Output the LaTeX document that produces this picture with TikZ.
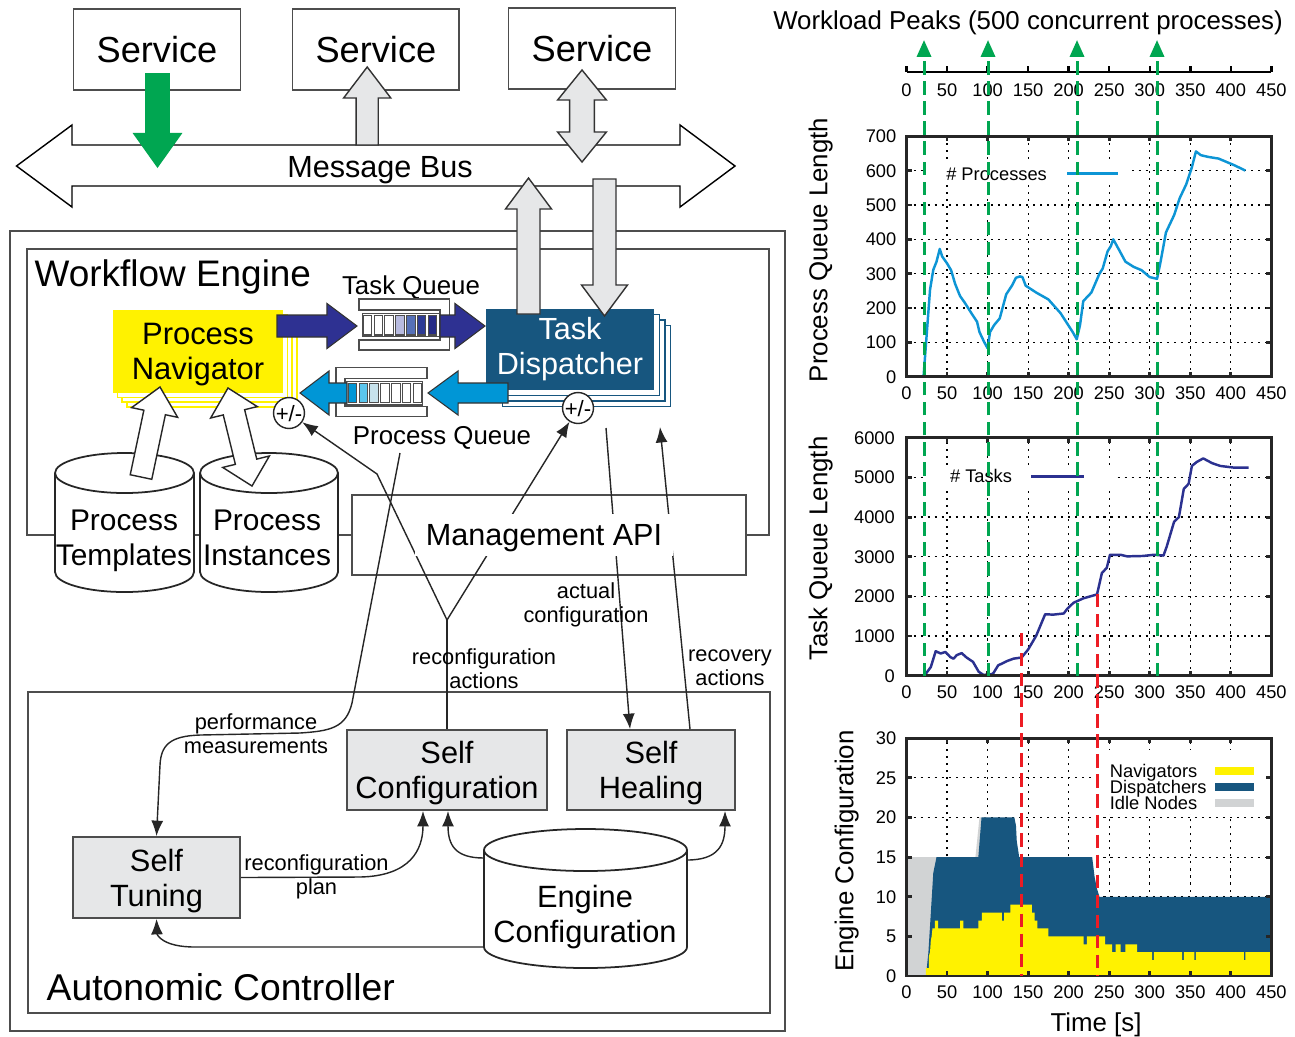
\documentclass[tikz,border=0pt]{standalone}
\usepackage{fontspec}
\setmainfont{Liberation Sans}
\usepackage{tikz}
\usetikzlibrary{arrows.meta,calc,positioning}

\definecolor{navyellow}{HTML}{FFF200}
\definecolor{dispblue}{HTML}{17567F}
\definecolor{tqblue}{HTML}{2E3192}
\definecolor{pqblue}{HTML}{0096D6}
\definecolor{boxgray}{HTML}{E6E7E8}
\definecolor{busgreen}{HTML}{00A651}
\definecolor{cutred}{HTML}{ED1C24}
\definecolor{idlegray}{HTML}{D1D3D4}
\definecolor{framegray}{HTML}{4D4D4D}
\definecolor{proccyan}{HTML}{0D95D5}
\definecolor{tasknavy}{HTML}{2B3190}
\definecolor{tqcA}{HTML}{B8BBE0}
\definecolor{tqcB}{HTML}{5570B8}
\definecolor{tqcC}{HTML}{2D3B95}
\definecolor{tqcD}{HTML}{262B86}
\definecolor{pqcB}{HTML}{5BC6EE}
\definecolor{pqcC}{HTML}{C7E2EC}

\newcommand\fsz[2]{\fontsize{#1}{#2}\selectfont}
% block arrow: style, tail, tip, half shaft, half head, head length
\newcommand\blockarrow[6]{%
  \path ($(#3)!#6!(#2)$) coordinate (ba-neck);
  \path[#1] ($(#2)!#4!90:(#3)$) -- ($(ba-neck)!#4!90:(#3)$) -- ($(ba-neck)!#5!90:(#3)$) -- (#3)
    -- ($(ba-neck)!#5!-90:(#3)$) -- ($(ba-neck)!#4!-90:(#3)$) -- ($(#2)!#4!-90:(#3)$) -- cycle;}
% double block arrow: style, end a, end b, half shaft, half head, head length
\newcommand\dblarrow[6]{%
  \path ($(#2)!#6!(#3)$) coordinate (da-na) ($(#3)!#6!(#2)$) coordinate (da-nb);
  \path[#1] (#2) -- ($(da-na)!#5!90:(#3)$) -- ($(da-na)!#4!90:(#3)$) -- ($(da-nb)!#4!-90:(#2)$)
    -- ($(da-nb)!#5!-90:(#2)$) -- (#3) -- ($(da-nb)!#5!90:(#2)$) -- ($(da-nb)!#4!90:(#2)$)
    -- ($(da-na)!#4!-90:(#3)$) -- ($(da-na)!#5!-90:(#3)$) -- cycle;}
% cylinder: x left, x right, y top centre, y bottom centre, y radius
\newcommand\drum[5]{%
  \filldraw[fill=white,draw=black!85,line width=0.5pt] (#1,#3) -- (#1,#4)
    arc[start angle=180,end angle=360,x radius={(#2-#1)/2},y radius=#5] -- (#2,#3)
    arc[start angle=0,end angle=180,x radius={(#2-#1)/2},y radius=#5] -- cycle;
  \draw[black!85,line width=0.5pt] (#1,#3) arc[start angle=180,end angle=360,x radius={(#2-#1)/2},y radius=#5];}

\begin{document}
\begin{tikzpicture}[x=0.01cm,y=0.01cm,every node/.append style={text depth=0pt},
  frame/.style={draw=framegray,line width=0.5pt},
  svc/.style={draw=framegray,fill=white,line width=0.5pt,minimum width=1.667cm,minimum height=0.807cm,inner sep=0pt,font=\fsz{10.3}{12}},
  selfbox/.style={draw=framegray,fill=boxgray,line width=0.5pt,align=center,inner sep=0pt,minimum height=0.8cm,font=\fsz{8.75}{10}},
  grayarrow/.style={draw=black!80,fill=boxgray,line width=0.4pt},
  whitearrow/.style={draw=black!85,fill=white,line width=0.4pt},
  tqarrow/.style={draw=black!80,fill=tqblue,line width=0.3pt},
  pqarrow/.style={draw=black!80,fill=pqblue,line width=0.3pt},
  conn/.style={draw=black!85,line width=0.4pt},
  arr/.style={conn,-{Latex[length=4.4pt,width=3.4pt]}},
  lbl/.style={font=\fsz{6.2}{6.8},align=center,inner sep=0pt},
  qlabel/.style={font=\fsz{7.35}{9},inner sep=0pt},
  pm/.style={circle,draw=black!85,fill=white,line width=0.4pt,inner sep=0pt,minimum size=0.27cm,font=\fsz{6.3}{7}},
  cell/.style={draw=framegray,line width=0.3pt},
  tick/.style={font=\fsz{5.2}{6},inner sep=0pt},
  axlbl/.style={font=\fsz{7.35}{9},inner sep=0pt},
  gridline/.style={black,line width=0.35pt,dash pattern=on 0.6pt off 1.4pt},
  plotframe/.style={black!85,line width=0.8pt},
  proccurve/.style={proccyan,line width=0.7pt,line join=round},
  taskcurve/.style={tasknavy,line width=0.7pt,line join=round},
  peak/.style={busgreen,line width=0.85pt,dash pattern=on 3.8pt off 1.9pt,-{Triangle[length=4.8pt,width=4pt]}},
  cutline/.style={cutred,line width=0.85pt,dash pattern=on 3.8pt off 1.9pt}]
\useasboundingbox (0,0) rectangle (1295,-1036);
\fill[white] (0,0) rectangle (1295,-1036);

% frames
\draw[frame] (10,-231) rectangle (785,-1031);
\draw[frame] (27,-249) rectangle (769,-535);
\draw[frame] (28,-692) rectangle (770,-1013);

% message bus and services
\draw[line width=0.4pt,fill=white] (72,-145) -- (680,-145) -- (680,-125) -- (735,-166) -- (680,-207) -- (680,-186)
  -- (72,-186) -- (72,-207) -- (16.5,-166) -- (72,-125) -- cycle;
\node[font=\fsz{8.7}{10}] (bus) at (380,-167) {Message Bus};
\node[svc] (svc1) at (157,-49.7) {Service};
\node[svc] (svc2) at (375.9,-49.7) {Service};
\node[svc] (svc3) at (592,-48.7) {Service};

\coordinate (g-tail) at (157.5,-73);
\coordinate (g-tip) at (157.5,-168);
\blockarrow{fill=busgreen}{g-tail}{g-tip}{0.124cm}{0.249cm}{0.35cm}
\coordinate (s2-tail) at (367.2,-145);
\coordinate (s2-tip) at (367.2,-67);
\blockarrow{grayarrow}{s2-tail}{s2-tip}{0.11cm}{0.236cm}{0.31cm}
\coordinate (s3-a) at (582,-70);
\coordinate (s3-b) at (582,-162);
\dblarrow{grayarrow}{s3-a}{s3-b}{0.124cm}{0.244cm}{0.30cm}

% workflow engine
\node[anchor=west,inner sep=0pt,font=\fsz{10.5}{12}] (wfe) at (34,-273) {Workflow Engine};
\foreach \d in {14,9,4.5}
  \draw[navyellow,fill=white,line width=0.5pt] (113+\d,-310-\d) rectangle (283+\d,-393-\d);
\node[fill=navyellow,minimum width=1.70cm,minimum height=0.83cm,align=center,inner sep=0pt,font=\fsz{8.8}{10}] (nav) at (198,-351.5) {Process\\Navigator};
\foreach \d in {16.5,11,5.5}
  \draw[dispblue,fill=white,line width=0.5pt] (486+\d,-309-\d) rectangle (654+\d,-390-\d);
\node[fill=dispblue,text=white,minimum width=1.68cm,minimum height=0.81cm,align=center,inner sep=0pt,text depth=2pt,font=\fsz{8.7}{10}] (disp) at (570,-349.5) {Task\\Dispatcher};

\coordinate (du-tail) at (528.5,-314);
\coordinate (du-tip) at (528.5,-178);
\blockarrow{grayarrow}{du-tail}{du-tip}{0.115cm}{0.23cm}{0.31cm}
\coordinate (dd-tail) at (604.5,-179);
\coordinate (dd-tip) at (604.5,-316);
\blockarrow{grayarrow}{dd-tail}{dd-tip}{0.115cm}{0.23cm}{0.31cm}

% task queue
\node[qlabel] (tqlbl) at (411,-285) {Task Queue};
\filldraw[fill=white,draw=framegray,line width=0.4pt] (359,-299) -- (449.3,-299) -- (449.3,-350) -- (359,-350)
  -- (359,-340) -- (440,-340) -- (440,-310) -- (359,-310) -- cycle;
\draw[cell,fill=white] (362.3,-313.3) rectangle (440,-336.7);
\foreach \c [count=\i from 0] in {white,white,white,tqcA,tqcB,tqcC,tqcD}
  \filldraw[cell,fill=\c] (363.3+10.83*\i,-315.7) rectangle ++(8.4,-19.3);
% process queue
\filldraw[fill=white,draw=framegray,line width=0.4pt] (427,-367.3) -- (336,-367.3) -- (336,-416.7) -- (427,-416.7)
  -- (427,-406.7) -- (345,-406.7) -- (345,-378.3) -- (427,-378.3) -- cycle;
\draw[cell,fill=white] (346.7,-381.7) rectangle (422.7,-405);
\foreach \c [count=\i from 0] in {pqblue,pqcB,pqcC,white,white,white,white}
  \filldraw[cell,fill=\c] (348.3+10.83*\i,-383.3) rectangle ++(8.4,-19.4);
\node[qlabel] (pqlbl) at (442,-435) {Process Queue};

\coordinate (tq1-tail) at (277,-326);
\coordinate (tq1-tip) at (357,-326);
\blockarrow{tqarrow}{tq1-tail}{tq1-tip}{0.11cm}{0.225cm}{0.30cm}
\coordinate (tq2-tail) at (440,-326);
\coordinate (tq2-tip) at (485,-326);
\blockarrow{tqarrow}{tq2-tail}{tq2-tip}{0.11cm}{0.225cm}{0.30cm}
\coordinate (pq1-tail) at (508,-393);
\coordinate (pq1-tip) at (428,-393);
\blockarrow{pqarrow}{pq1-tail}{pq1-tip}{0.10cm}{0.22cm}{0.30cm}
\coordinate (pq2-tail) at (347,-393);
\coordinate (pq2-tip) at (300,-393);
\blockarrow{pqarrow}{pq2-tail}{pq2-tip}{0.10cm}{0.22cm}{0.29cm}

% repositories
\drum{55}{194}{-473}{-572}{20}
\drum{200}{338}{-473}{-572}{20}
\node[align=center,inner sep=0pt,font=\fsz{8.5}{10}] (tpl) at (124,-538) {Process\\Templates};
\node[align=center,inner sep=0pt,font=\fsz{8.5}{10}] (inst) at (267,-538) {Process\\Instances};
\coordinate (tp-tail) at (141,-477);
\coordinate (tp-tip) at (160,-387);
\blockarrow{whitearrow}{tp-tail}{tp-tip}{0.11cm}{0.235cm}{0.26cm}
\coordinate (in-a) at (228,-388);
\coordinate (in-b) at (252,-486);
\dblarrow{whitearrow}{in-a}{in-b}{0.11cm}{0.24cm}{0.25cm}

\node[draw=framegray,fill=white,line width=0.5pt,minimum width=3.94cm,minimum height=0.80cm] (mapi) at (549,-535) {};
\node[pm] (pm1) at (289,-413) {+/-};
\node[pm] (pm2) at (578,-408) {+/-};

% autonomic controller
\node[selfbox,minimum width=2.00cm] (sconf) at (447,-770) {Self\\Configuration};
\node[selfbox,minimum width=1.68cm] (sheal) at (651,-770) {Self\\Healing};
\node[selfbox,minimum width=1.67cm,minimum height=0.81cm] (stune) at (156.5,-877.5) {Self\\Tuning};
\drum{484}{687}{-850}{-947}{21}
\node[align=center,inner sep=0pt,font=\fsz{8.75}{10}] (engcfg) at (585,-914) {Engine\\Configuration};
\node[anchor=west,inner sep=0pt,font=\fsz{10.6}{12}] (ac) at (46,-987) {Autonomic Controller};

% control loops
\coordinate (fork) at (447,-620);
\coordinate (fork-bend) at (377,-474);
\draw[conn] (sconf.north) -- (fork);
\draw[arr] (fork) -- (fork-bend) -- (pm1);
\draw[arr] (fork) -- (pm2);
\coordinate (cfg-src) at (606,-428);
\coordinate (sheal-in) at ($(sheal.north)+(-21,0)$);
\draw[arr] (cfg-src) -- (sheal-in);
\coordinate (sheal-out) at ($(sheal.north)+(39,0)$);
\coordinate (rec-end) at (660,-427);
\draw[arr] (sheal-out) -- (rec-end);
\coordinate (perf-src) at (400,-453);
\draw[arr] (perf-src) -- (352,-703) .. controls (346,-728) and (330,-731) .. (300,-733) -- (200,-735)
  .. controls (170,-736) and (161,-745) .. (160,-765) -- (stune.north);
\coordinate (sconf-in1) at ($(sconf.south)+(-24,0)$);
\draw[arr] (stune.east) -- (360,-877) .. controls (410,-876) and (423,-850) .. (sconf-in1);
\coordinate (eng-w1) at (484,-858);
\coordinate (sconf-in2) at ($(sconf.south)+(1,0)$);
\draw[arr] (eng-w1) .. controls (455,-858) and (448,-845) .. (sconf-in2);
\coordinate (eng-e1) at (687,-860);
\coordinate (sheal-in2) at ($(sheal.south)+(74,0)$);
\draw[arr] (eng-e1) .. controls (718,-860) and (725,-845) .. (sheal-in2);
\coordinate (eng-w2) at (484,-947);
\draw[arr] (eng-w2) -- (195,-947) .. controls (163,-947) and (157,-935) .. (stune.south);
\node[fill=white,inner sep=3pt,font=\fsz{8.7}{10}] (mapi-txt) at (544,-535) {Management API};

\node[lbl] (actcfg) at (586,-603) {actual\\configuration};
\node[lbl] (reacts) at (484,-668.5) {reconfiguration\\actions};
\node[lbl] (recov) at (730,-668) {recovery\\actions};
\node[lbl] (perf) at (256,-734) {performance\\measurements};
\node[lbl] (plan) at (316.5,-874.5) {reconfiguration\\plan};

% charts
\node[axlbl] (peaks) at (1028,-20) {Workload Peaks (500 concurrent processes)};
\begin{scope}[shift={(906.5,-72)},x=0.0081cm]
  \draw[line width=0.7pt] (0,0) -- (450,0);
  \foreach \t in {0,50,...,450} {
    \draw[line width=0.7pt] (\t,0) -- (\t,6);
    \node[tick] at (\t,-18.5) {\t};}
\end{scope}

% process queue plot
\node[axlbl,rotate=90] (pql) at (818,-250) {Process Queue Length};
\begin{scope}[shift={(906.5,-376.7)},x=0.0081cm,y=0.003429cm]
  \foreach \t in {50,100,...,400} \draw[gridline] (\t,0) -- (\t,700);
  \foreach \v in {100,200,...,600} \draw[gridline] (0,\v) -- (450,\v);
  \fill[white] (20,560) rectangle (278,625);
  \draw[proccurve] plot coordinates {(21,0) (29,253) (33,311) (37,335) (41,372) (44,350) (50,330) (55,310)
    (60,270) (66,235) (72,215) (80,185) (87,160) (90,130) (96,100) (100,83) (103,130) (108,150) (115,170)
    (123,240) (130,265) (135,288) (140,292) (143,290) (147,265) (160,245) (175,225) (190,185) (205,130)
    (210,109) (214,150) (218,220) (228,245) (238,300) (242,315) (248,365) (252,380) (255,400) (262,370)
    (270,335) (280,320) (290,310) (300,290) (309,285) (313,330) (320,420) (330,470) (337,520) (345,560)
    (352,610) (357,656) (363,645) (372,640) (385,635) (395,625) (405,615) (418,600)};
  \node[tick,anchor=east] (plg) at (174,591) {\# Processes};
  \draw[proccurve] (198,591) -- (261,591);
  \draw[plotframe] (0,0) rectangle (450,700);
  \foreach \t in {0,50,...,450} {
    \draw[plotframe] (\t,0) -- ++(0,0.05cm) (\t,700) -- ++(0,-0.05cm);
    \node[tick,below=0.09cm] at (\t,0) {\t};}
  \foreach \v in {0,100,...,700} {
    \draw[plotframe] (0,\v) -- ++(0.05cm,0) (450,\v) -- ++(-0.05cm,0);
    \node[tick,left=0.095cm] at (0,\v) {\v};}
\end{scope}

% task queue plot
\node[axlbl,rotate=90] (tql) at (818,-548.5) {Task Queue Length};
\begin{scope}[shift={(906.5,-675.7)},x=0.0081cm,y=0.00040117cm]
  \foreach \t in {50,100,...,400} \draw[gridline] (\t,0) -- (\t,6000);
  \foreach \v in {1000,2000,...,5000} \draw[gridline] (0,\v) -- (450,\v);
  \fill[white] (22,4750) rectangle (258,5300);
  \draw[taskcurve] plot coordinates {(0,0) (22,0) (30,220) (36,620) (42,560) (48,600) (54,470) (58,430)
    (62,520) (68,570) (74,460) (82,350) (89,100) (95,20) (105,40) (107,60) (113,260) (124,370) (132,430)
    (142,460) (150,660) (160,1010) (171,1550) (181,1540) (194,1570) (198,1680) (206,1840) (218,1950)
    (235,2050) (241,2590) (247,2720) (251,3050) (264,3050) (272,3010) (292,3020) (305,3050) (317,3030)
    (321,3260) (330,3880) (336,4000) (342,4710) (348,4840) (352,5290) (358,5390) (366,5480) (377,5360)
    (387,5290) (403,5250) (422,5250)};
  \node[tick,anchor=east] (tlg) at (131,5028) {\# Tasks};
  \draw[taskcurve] (154,5028) -- (219,5028);
  \draw[plotframe] (0,0) rectangle (450,6000);
  \foreach \t in {0,50,...,450} {
    \draw[plotframe] (\t,0) -- ++(0,0.05cm) (\t,6000) -- ++(0,-0.05cm);
    \node[tick,below=0.09cm] at (\t,0) {\t};}
  \foreach \v in {0,1000,...,6000} {
    \draw[plotframe] (0,\v) -- ++(0.05cm,0) (450,\v) -- ++(-0.05cm,0);
    \node[tick,left=0.11cm] at (0,\v) {\v};}
\end{scope}

% engine configuration plot
\node[axlbl,rotate=90] (ecl) at (844,-851) {Engine Configuration};
\node[axlbl] (time) at (1096,-1022) {Time [s]};
\begin{scope}[shift={(906.5,-976)},x=0.0081cm,y=0.07923cm]
  \foreach \t in {50,100,...,400} \draw[gridline] (\t,0) -- (\t,30);
  \foreach \v in {5,10,...,25} \draw[gridline] (0,\v) -- (450,\v);
  \fill[idlegray] (0,0) -- (0,15) -- (85,15) -- (90,20) -- (100,20) -- (100,0) -- cycle;
  \fill[dispblue] (24,0) -- (27,3) -- (30,8) -- (33,13) -- (37,15) -- (88.6,15) -- (92.5,20) -- (133,20)
    -- (135,19) -- (136,17) -- (139,15) -- (229,15) -- (232,12.5) -- (235,11) -- (238,10) -- (450,10)
    -- (450,0) -- cycle;
  \fill[navyellow] (24,0) -- (24,1) -- (27.5,1) -- (27.5,2.5) -- (29,3) -- (30,4.5) -- (31,5) -- (32,6)
    -- (35,6) -- (35,7) -- (39,7) -- (39,6) -- (66,6) -- (66,7) -- (70,7) -- (70,6) -- (88.5,6)
    -- (88.5,7) -- (93,7) -- (93,8) -- (117.5,8) -- (117.5,7) -- (120.5,7) -- (120.5,8) -- (128,8)
    -- (128,9) -- (154.5,9) -- (154.5,8) -- (158,8) -- (158,7) -- (161.5,7) -- (161.5,6) -- (175,6)
    -- (175,5) -- (218.5,5) -- (218.5,4) -- (222.5,4) -- (222.5,5) -- (245,5) -- (245,4) -- (253.5,4)
    -- (253.5,3) -- (258,3) -- (258,4) -- (264,4) -- (264,3) -- (270,3) -- (270,4) -- (284.5,4)
    -- (284.5,3) -- (303,3) -- (303,2) -- (305,2) -- (305,3) -- (340,3) -- (340,2) -- (342,2) -- (342,3)
    -- (355,3) -- (355,2) -- (357,2) -- (357,3) -- (416,3) -- (416,2) -- (418,2) -- (418,3) -- (450,3)
    -- (450,0) -- cycle;
  \fill[white] (240,20.5) rectangle (446,28.5);
  \node[tick,anchor=west] (lnav) at (250,25.9) {Navigators};
  \node[tick,anchor=west] (ldis) at (250,23.8) {Dispatchers};
  \node[tick,anchor=west] (lidl) at (250,21.8) {Idle Nodes};
  \fill[navyellow] (381,25.4) rectangle (428,26.4);
  \fill[dispblue] (381,23.3) rectangle (428,24.3);
  \fill[idlegray] (381,21.3) rectangle (428,22.3);
  \draw[plotframe] (0,0) rectangle (450,30);
  \foreach \t in {0,50,...,450} {
    \draw[plotframe] (\t,0) -- ++(0,0.05cm) (\t,30) -- ++(0,-0.05cm);
    \node[tick,below=0.09cm] at (\t,0) {\t};}
  \foreach \v in {0,5,...,30} {
    \draw[plotframe] (0,\v) -- ++(0.05cm,0) (450,\v) -- ++(-0.05cm,0);
    \node[tick,left=0.095cm] at (0,\v) {\v};}
\end{scope}

% workload peaks and reconfigurations
\foreach \p in {924,988,1077,1157}
  \draw[peak] (\p,-676) -- (\p,-40);
\draw[cutline] (1021,-633) -- (1021,-976);
\draw[cutline] (1097,-594) -- (1097,-976);
\end{tikzpicture}
\end{document}
